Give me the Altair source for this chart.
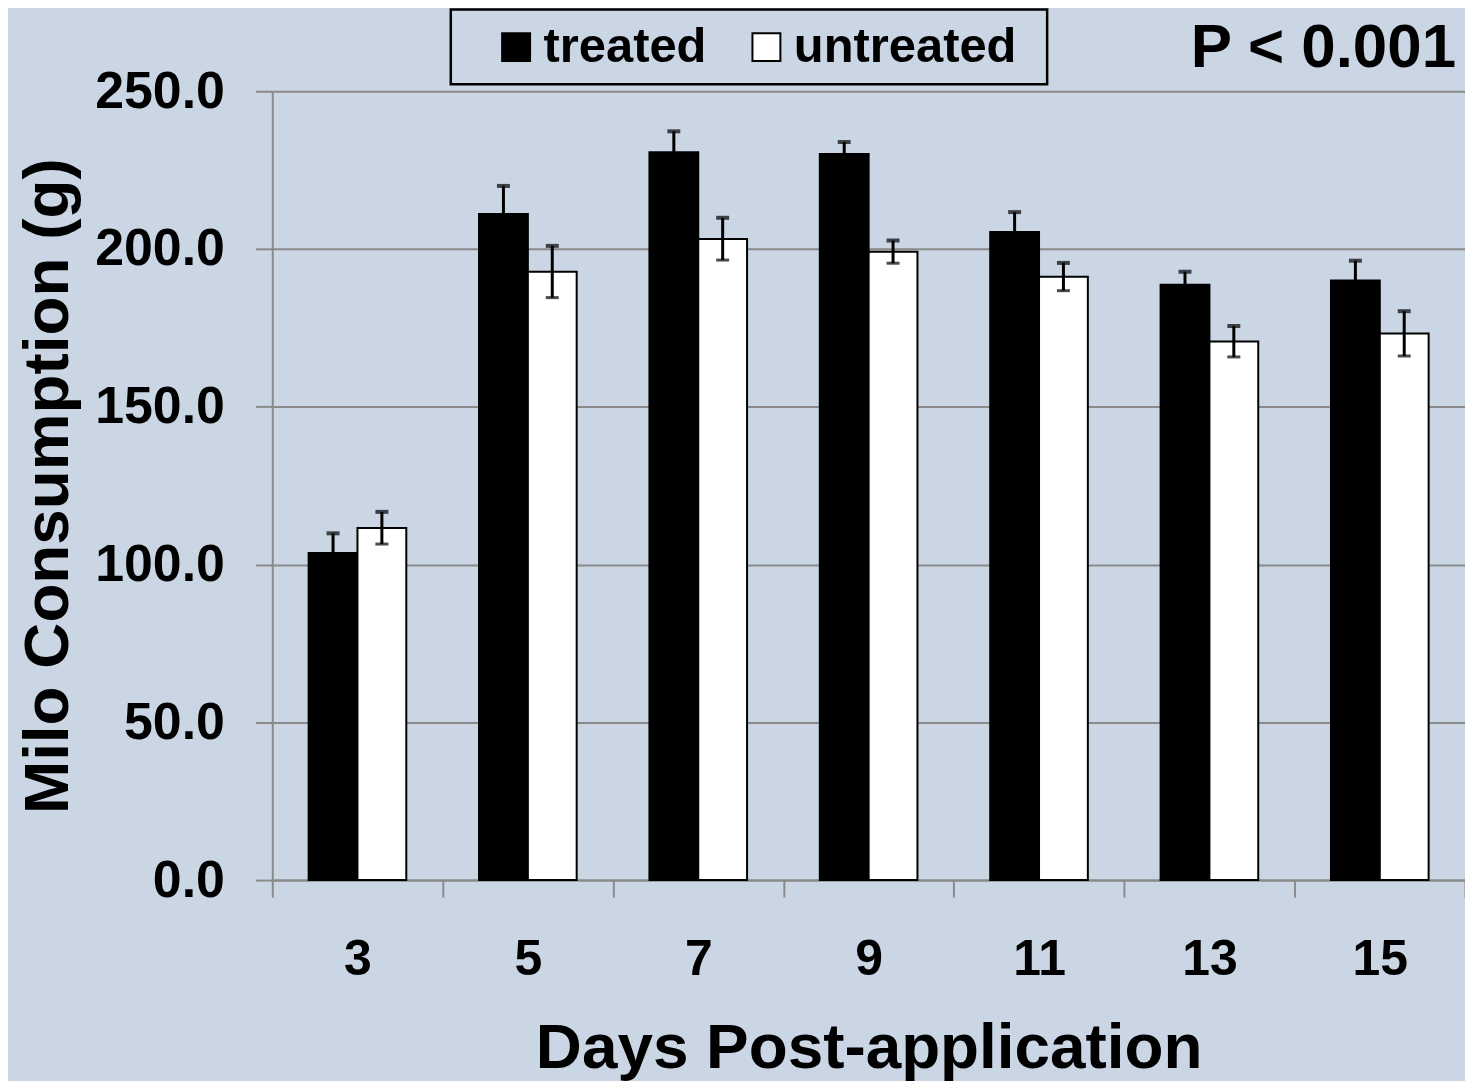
import altair as alt
import pandas as pd

days = ["3", "5", "7", "9", "11", "13", "15"]
groups = ["treated", "untreated"]
treated = [103.7, 211.1, 230.7, 230.1, 205.4, 188.7, 190.0]
treated_err = [6.2, 8.9, 6.6, 3.8, 6.3, 4.1, 6.3]
untreated = [111.6, 192.8, 203.2, 199.1, 191.2, 170.7, 173.2]
untreated_err = [5.1, 8.2, 6.7, 3.6, 4.4, 4.9, 7.1]
bar_colors = ["#000000", "#ffffff"]
y_ticks = [0, 50, 100, 150, 200, 250]
annotation = ["P < 0.001"]

FONT = "Liberation Sans"
BG = "#CAD6E4"
GRID = "#8A8A8A"

rows = []
for i, d in enumerate(days):
    rows.append({"day": d, "group": "treated", "value": treated[i], "err": treated_err[i]})
    rows.append({"day": d, "group": "untreated", "value": untreated[i], "err": untreated_err[i]})
df = pd.DataFrame(rows)
df["lo"] = df["value"] - df["err"]
df["hi"] = df["value"] + df["err"]

x_scale = alt.Scale(paddingInner=0, paddingOuter=0)
x_enc = alt.X(
    "day:N",
    sort=days,
    scale=x_scale,
    axis=alt.Axis(
        title="Days Post-application",
        labelAngle=0,
        tickBand="extent",
        grid=False,
        labelFont=FONT, labelFontSize=50, labelFontWeight="bold", labelColor="black",
        labelPadding=38,
        tickSize=17, tickColor=GRID, tickWidth=2,
        domainColor=GRID, domainWidth=2,
        titleFont=FONT, titleFontSize=64, titleFontWeight="bold", titleColor="black",
        titlePadding=32,
    ),
)
xoff = alt.XOffset("group:N", sort=groups, scale=alt.Scale(paddingInner=0, paddingOuter=0.745))
y_scale = alt.Scale(domain=[0, 250], nice=False)

base = alt.Chart(df)

bars = base.mark_bar(stroke="black", strokeWidth=2).encode(
    x=x_enc,
    xOffset=xoff,
    y=alt.Y(
        "value:Q",
        scale=y_scale,
        axis=alt.Axis(
            title="Milo Consumption (g)",
            values=y_ticks,
            format=".1f",
            labelFont=FONT, labelFontSize=52, labelFontWeight="bold", labelColor="black",
            labelPadding=31,
            tickSize=17, tickColor=GRID, tickWidth=2,
            domainColor=GRID, domainWidth=2,
            gridColor=GRID, gridWidth=2,
            titleFont=FONT, titleFontSize=64, titleFontWeight="bold", titleColor="black",
            titlePadding=14,
        ),
    ),
    fill=alt.Fill(
        "group:N",
        scale=alt.Scale(domain=groups, range=bar_colors),
        legend=alt.Legend(
            title=None,
            orient="none",
            legendX=220,
            legendY=-69,
            direction="horizontal",
            symbolType="square",
            symbolSize=784,
            symbolStrokeColor="black",
            symbolStrokeWidth=2,
            labelFont=FONT, labelFontSize=49, labelFontWeight="bold", labelColor="black",
            labelOffset=3,
            labelLimit=0,
            columnPadding=35,
            padding=0,
        ),
    ),
)

rules = base.mark_rule(color="black", strokeWidth=3).encode(
    x=alt.X("day:N", sort=days, scale=x_scale), xOffset=xoff,
    y=alt.Y("lo:Q", scale=y_scale), y2="hi:Q",
)
cap_hi = base.mark_tick(color="black", thickness=4, size=13, orient="horizontal").encode(
    x=alt.X("day:N", sort=days, scale=x_scale), xOffset=xoff, y=alt.Y("hi:Q", scale=y_scale),
)
cap_lo = base.mark_tick(color="black", thickness=3, size=13, orient="horizontal").encode(
    x=alt.X("day:N", sort=days, scale=x_scale), xOffset=xoff, y=alt.Y("lo:Q", scale=y_scale),
)

frame = alt.Chart(pd.DataFrame({"a": [0]})).mark_rect(
    fill=None, stroke="black", strokeWidth=2.5
).encode(x=alt.value(179), x2=alt.value(777), y=alt.value(-82), y2=alt.value(-7))

ptext = alt.Chart(pd.DataFrame({"t": annotation})).mark_text(
    align="right", baseline="alphabetic", font=FONT, fontSize=62, fontWeight="bold", color="black"
).encode(x=alt.value(1187), y=alt.value(-24), text="t:N")

chart = alt.layer(bars, rules, cap_hi, cap_lo, frame, ptext).properties(
    width=1196,
    height=791,
    autosize=alt.AutoSizeParams(type="none"),
    padding={"left": 265, "top": 82, "right": 0, "bottom": 205},
    background=BG,
).configure_view(stroke=None)

chart.save("out.html", embed_options={"renderer": "svg", "actions": False})
